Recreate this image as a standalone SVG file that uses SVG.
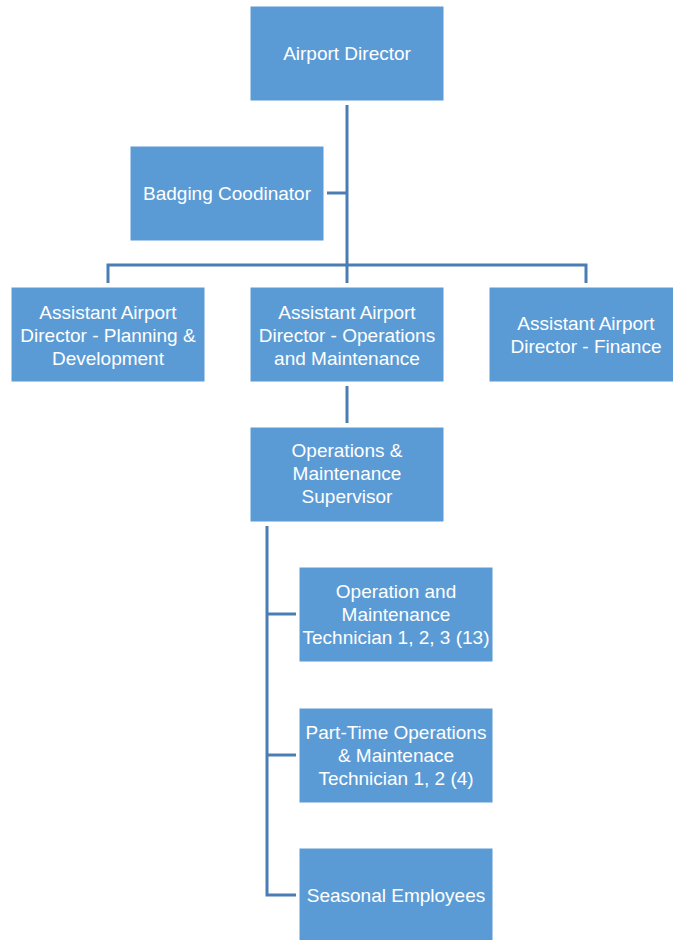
<svg xmlns="http://www.w3.org/2000/svg" width="673" height="940" viewBox="0 0 673 940">
<style>
.box{fill:#5b9bd5;stroke:#ffffff;stroke-width:1}
.lbl{font-family:"Liberation Sans",Arial,sans-serif;font-size:19px;fill:#ffffff;text-anchor:middle}
.con{stroke:#4a7db3;stroke-width:3;fill:none}
</style>
<rect width="673" height="940" fill="#ffffff"/>
<g id="connectors">
<path class="con" d="M347 105V283"/>
<path class="con" d="M327 193H347"/>
<path class="con" d="M108 283V265H586V283"/>
<path class="con" d="M347 386V423"/>
<path class="con" d="M267 526V895H296"/>
<path class="con" d="M267 614H296"/>
<path class="con" d="M267 755H296"/>
</g>
<g id="airport-director">
<rect class="box" x="250" y="6" width="194" height="95"/>
<text class="lbl" x="347" y="60">Airport Director</text>
</g>
<g id="badging-coordinator">
<rect class="box" x="130" y="146" width="194" height="95"/>
<text class="lbl" x="227" y="200">Badging Coodinator</text>
</g>
<g id="aad-planning">
<rect class="box" x="11" y="287" width="194" height="95"/>
<text class="lbl" x="108" y="318.5">Assistant Airport</text>
<text class="lbl" x="108" y="341.5">Director - Planning &amp;</text>
<text class="lbl" x="108" y="364.5">Development</text>
</g>
<g id="aad-operations">
<rect class="box" x="250" y="287" width="194" height="95"/>
<text class="lbl" x="347" y="318.5">Assistant Airport</text>
<text class="lbl" x="347" y="341.5">Director - Operations</text>
<text class="lbl" x="347" y="364.5">and Maintenance</text>
</g>
<g id="aad-finance">
<rect class="box" x="489" y="287" width="194" height="95"/>
<text class="lbl" x="586" y="329.5">Assistant Airport</text>
<text class="lbl" x="586" y="352.5">Director - Finance</text>
</g>
<g id="om-supervisor">
<rect class="box" x="250" y="427" width="194" height="95"/>
<text class="lbl" x="347" y="456.5">Operations &amp;</text>
<text class="lbl" x="347" y="479.5">Maintenance</text>
<text class="lbl" x="347" y="502.5">Supervisor</text>
</g>
<g id="om-technician">
<rect class="box" x="299" y="567" width="194" height="95"/>
<text class="lbl" x="396" y="598">Operation and</text>
<text class="lbl" x="396" y="621">Maintenance</text>
<text class="lbl" x="396" y="644">Technician 1, 2, 3 (13)</text>
</g>
<g id="pt-technician">
<rect class="box" x="299" y="708" width="194" height="95"/>
<text class="lbl" x="396" y="738.5">Part-Time Operations</text>
<text class="lbl" x="396" y="761.5">&amp; Maintenace</text>
<text class="lbl" x="396" y="784.5">Technician 1, 2 (4)</text>
</g>
<g id="seasonal">
<rect class="box" x="299" y="848" width="194" height="95"/>
<text class="lbl" x="396" y="901.5">Seasonal Employees</text>
</g>
</svg>
